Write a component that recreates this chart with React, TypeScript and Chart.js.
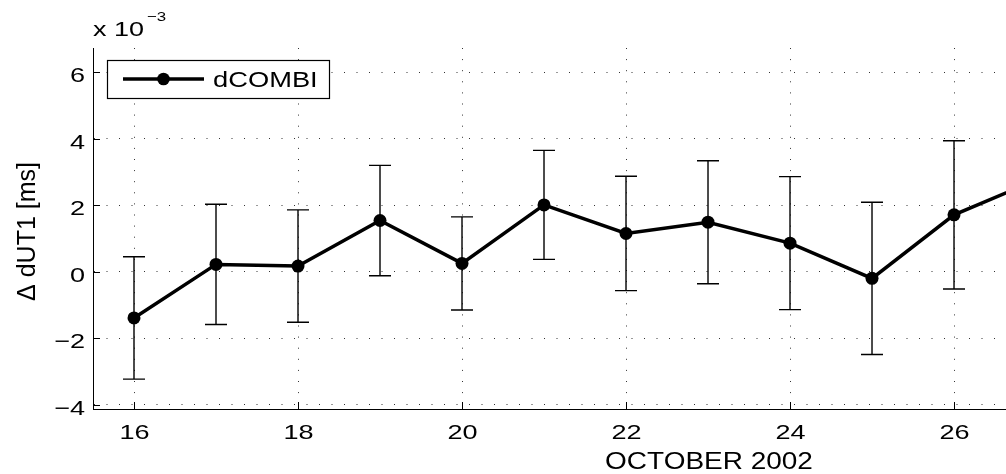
import { useEffect, useRef } from "react";
import { Chart, registerables } from "chart.js";

Chart.register(...registerables);

// ---- data (values in units of 1e-3 ms, as plotted) ----
const days = [16, 17, 18, 19, 20, 21, 22, 23, 24, 25, 26, 27];
const dUT1 = [-1.39, 0.22, 0.17, 1.54, 0.25, 2.01, 1.15, 1.49, 0.86, -0.2, 1.71, 2.75];
const dUT1Err = [1.84, 1.81, 1.69, 1.66, 1.4, 1.64, 1.72, 1.85, 2.0, 2.29, 2.23, 2.2];
const xTicks = [16, 18, 20, 22, 24, 26];
const yTicks = [-4, -2, 0, 2, 4, 6];
const xRange = [15.5, 26.634];
const yRange = [-4.13, 6.73];
const seriesLabel = "dCOMBI";
const xTitle = "OCTOBER 2002";
const yTitle = "Δ dUT1 [ms]";
const yMultiplierBase = "x 10";
const yMultiplierExp = "\u22123";

const FONT = "'Liberation Sans', Arial, Helvetica, sans-serif";

function fmt(v: number) {
  return v < 0 ? "\u2212" + Math.abs(v) : String(v);
}

function drawText(
  ctx: CanvasRenderingContext2D,
  s: string,
  x: number,
  y: number,
  size: number,
  sx: number,
  align: CanvasTextAlign
) {
  ctx.save();
  ctx.translate(x, y);
  ctx.scale(sx, 1);
  ctx.font = `${size}px ${FONT}`;
  ctx.textAlign = align;
  ctx.textBaseline = "alphabetic";
  ctx.fillStyle = "#000";
  ctx.fillText(s, 0, 0);
  ctx.restore();
}

const matlabPlugin = {
  id: "matlabDecor",
  beforeDatasetsDraw(chart: any) {
    const ctx: CanvasRenderingContext2D = chart.ctx;
    const xs = chart.scales.x;
    const ys = chart.scales.y;
    const a = chart.chartArea;
    ctx.save();
    ctx.beginPath();
    ctx.rect(a.left, a.top, a.right - a.left, a.bottom - a.top);
    ctx.clip();
    ctx.strokeStyle = "#000";
    ctx.lineWidth = 1.4;
    const cap = 11;
    days.forEach((d, i) => {
      const x = xs.getPixelForValue(d);
      const yt = ys.getPixelForValue(dUT1[i] + dUT1Err[i]);
      const yb = ys.getPixelForValue(dUT1[i] - dUT1Err[i]);
      ctx.beginPath();
      ctx.moveTo(x, yt);
      ctx.lineTo(x, yb);
      ctx.moveTo(x - cap, yt);
      ctx.lineTo(x + cap, yt);
      ctx.moveTo(x - cap, yb);
      ctx.lineTo(x + cap, yb);
      ctx.stroke();
    });
    ctx.restore();
  },
  afterDraw(chart: any) {
    const ctx: CanvasRenderingContext2D = chart.ctx;
    const xs = chart.scales.x;
    const ys = chart.scales.y;
    const a = chart.chartArea;
    ctx.save();
    // inward tick marks
    ctx.strokeStyle = "#000";
    ctx.lineWidth = 1;
    ctx.beginPath();
    yTicks.forEach((v) => {
      const y = Math.round(ys.getPixelForValue(v)) + 0.5;
      ctx.moveTo(a.left, y);
      ctx.lineTo(a.left + 7, y);
    });
    xTicks.forEach((v) => {
      const x = Math.round(xs.getPixelForValue(v)) + 0.5;
      ctx.moveTo(x, a.bottom);
      ctx.lineTo(x, a.bottom - 7);
    });
    ctx.stroke();

    // tick labels
    yTicks.forEach((v) => {
      drawText(ctx, fmt(v), a.left - 8, ys.getPixelForValue(v) + 10, 20.5, 1.32, "right");
    });
    xTicks.forEach((v) => {
      drawText(ctx, fmt(v), xs.getPixelForValue(v) + 0.5, a.bottom + 30, 20.5, 1.32, "center");
    });

    // axis titles
    drawText(ctx, xTitle, 709, 469, 23.5, 1.19, "center");
    ctx.save();
    ctx.translate(34.5, (a.top + a.bottom) / 2 + 3);
    ctx.rotate(-Math.PI / 2);
    ctx.font = `25px ${FONT}`;
    ctx.textAlign = "center";
    ctx.textBaseline = "alphabetic";
    ctx.fillStyle = "#000";
    ctx.fillText(yTitle, 0, 0);
    ctx.restore();

    // exponent
    drawText(ctx, yMultiplierBase, a.left, 36, 20, 1.35, "left");
    drawText(ctx, yMultiplierExp, 147, 21, 13, 1.3, "left");

    // legend
    const lx = 107.5, ly = 60.5, lw = 222, lh = 38;
    ctx.fillStyle = "#fff";
    ctx.fillRect(lx, ly, lw, lh);
    ctx.strokeStyle = "#000";
    ctx.lineWidth = 1.2;
    ctx.strokeRect(lx, ly, lw, lh);
    ctx.lineWidth = 3.5;
    ctx.beginPath();
    ctx.moveTo(123, 79);
    ctx.lineTo(204, 79);
    ctx.stroke();
    ctx.fillStyle = "#000";
    ctx.beginPath();
    ctx.arc(163.5, 79, 6.3, 0, Math.PI * 2);
    ctx.fill();
    drawText(ctx, chart.data.datasets[0].label, 213, 87, 21.5, 1.27, "left");
    ctx.restore();
  },
};

export default function App() {
  const ref = useRef<HTMLCanvasElement | null>(null);
  useEffect(() => {
    if (!ref.current) return;
    const chart = new Chart(ref.current, {
      type: "line",
      data: {
        datasets: [
          {
            label: seriesLabel,
            data: days.map((d, i) => ({ x: d, y: dUT1[i] })),
            borderColor: "#000",
            backgroundColor: "#000",
            borderWidth: 3.5,
            pointRadius: 6.5,
            pointBorderWidth: 0,
            pointBackgroundColor: "#000",
            tension: 0,
          },
        ],
      },
      options: {
        animation: false,
        responsive: false,
        devicePixelRatio: 1,
        layout: { autoPadding: false, padding: { left: 93, top: 48, right: 0, bottom: 65 } },
        plugins: { legend: { display: false }, tooltip: { enabled: false } },
        events: [],
        scales: {
          x: {
            type: "linear",
            min: xRange[0],
            max: xRange[1],
            afterBuildTicks: (s: any) => {
              s.ticks = xTicks.map((v) => ({ value: v }));
            },
            afterFit: (s: any) => {
              s.height = 0;
            },
            ticks: { display: false },
            grid: { color: "#333", lineWidth: 1, drawTicks: false },
            border: { display: true, color: "#000", width: 1, dash: [1, 10.1] },
          },
          y: {
            type: "linear",
            min: yRange[0],
            max: yRange[1],
            afterBuildTicks: (s: any) => {
              s.ticks = yTicks.map((v) => ({ value: v }));
            },
            afterFit: (s: any) => {
              s.width = 0;
            },
            ticks: { display: false },
            grid: { color: "#333", lineWidth: 1, drawTicks: false },
            border: { display: true, color: "#000", width: 1, dash: [1, 11.5] },
          },
        },
      },
      plugins: [matlabPlugin],
    } as any);
    return () => chart.destroy();
  }, []);
  return (
    <div style={{ position: "absolute", left: 0, top: 0, width: 1006, height: 474, background: "#fff" }}>
      <canvas ref={ref} width={1006} height={474} style={{ display: "block", width: 1006, height: 474 }} />
    </div>
  );
}
